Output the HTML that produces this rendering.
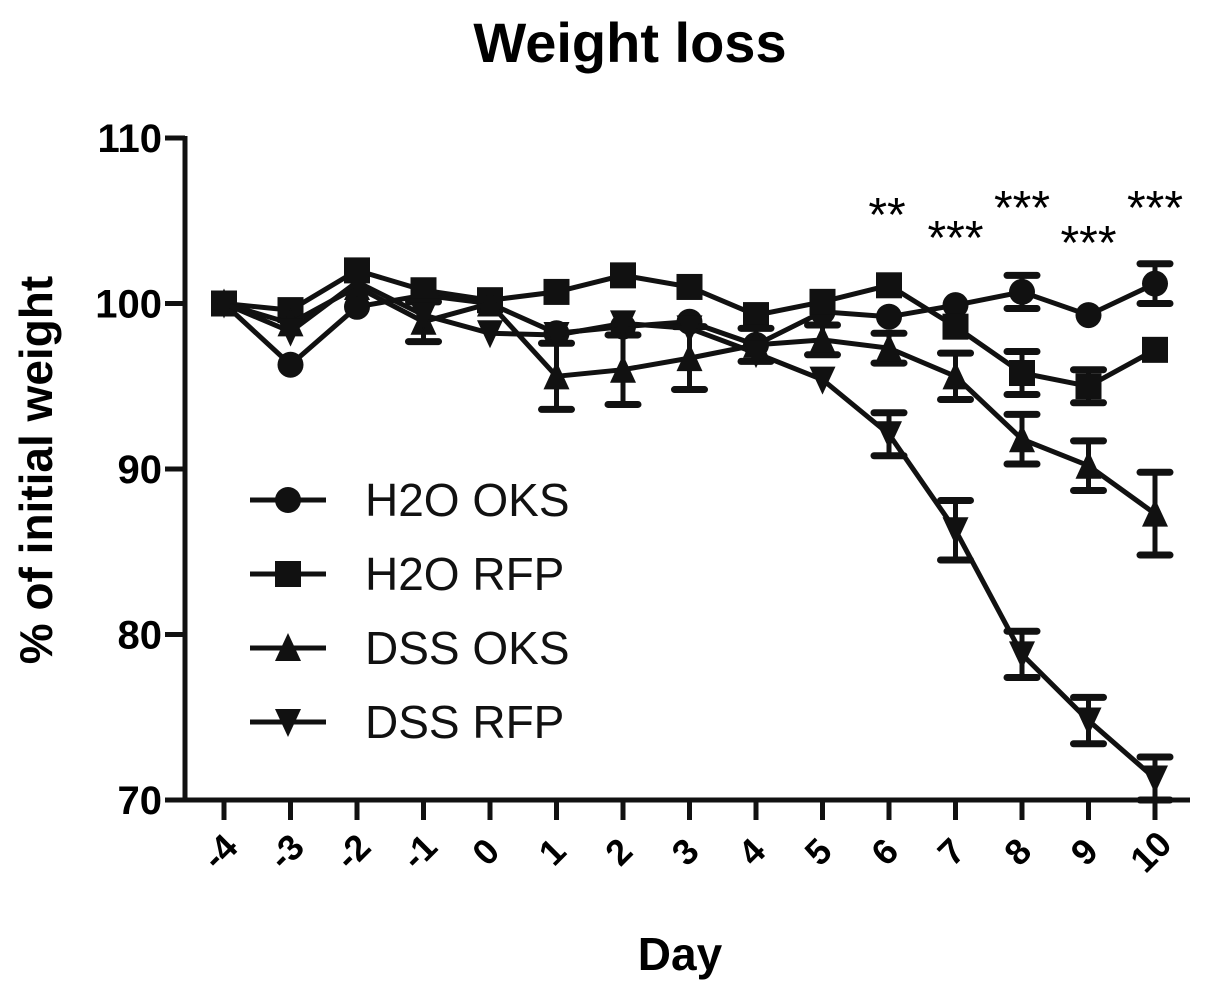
<!DOCTYPE html>
<html><head><meta charset="utf-8"><style>body{margin:0;background:#fff}svg{display:block;font-family:"Liberation Sans",Arial,sans-serif}</style></head>
<body>
<svg id="c" width="1205" height="990"></svg>
<script>
const days=[-4,-3,-2,-1,0,1,2,3,4,5,6,7,8,9,10];
const h2oOks=[100,96.3,99.8,100.5,100,98.2,98.6,98.9,97.5,99.5,99.2,99.9,100.7,99.3,101.2];
const h2oOksErr=[0,0,0,0,0,0,0,0,0,0,0,0,1,0,1.2];
const h2oRfp=[100,99.6,102,100.8,100.2,100.7,101.7,101,99.3,100.1,101.1,98.6,95.8,95,97.2];
const h2oRfpErr=[0,0,0,0,0,0,0,0,0,0,0,0,1.3,1,0];
const dssOks=[100,98.8,101,98.9,100,95.6,96,96.7,97.5,97.8,97.3,95.6,91.8,90.2,87.3];
const dssOksErr=[0,0,0,1.2,0,2,2.1,1.9,1,0.9,0.9,1.4,1.5,1.5,2.5];
const dssRfp=[100,98.3,101.3,99.3,98.2,98.1,98.8,98.5,97,95.4,92.1,86.3,78.8,74.8,71.3];
const dssRfpErr=[0,0,0,0,0,0,0,0,0,0,1.3,1.8,1.4,1.4,1.3];
const yTicks=[70,80,90,100,110];
const stars=[{d:6,t:"**",y:105.6},{d:7,t:"***",y:104.2},{d:8,t:"***",y:106},{d:9,t:"***",y:103.9},{d:10,t:"***",y:106}];
const NS="http://www.w3.org/2000/svg";
const svg=document.getElementById('c');
const X=d=>224+(d+4)*(1155-224)/14;
const Y=v=>800-(v-70)*(800-138)/40;
function el(t,a,p){const e=document.createElementNS(NS,t);for(const k in a)e.setAttribute(k,a[k]);(p||svg).appendChild(e);return e;}
let t=el('text',{x:630,y:62,'text-anchor':'middle','font-size':56,'font-weight':'bold'});t.textContent='Weight loss';


el('line',{x1:185,y1:136,x2:185,y2:802,stroke:'#111','stroke-width':5});
el('line',{x1:183,y1:800,x2:1190,y2:800,stroke:'#111','stroke-width':5});
yTicks.forEach(v=>{el('line',{x1:165,y1:Y(v),x2:185,y2:Y(v),stroke:'#111','stroke-width':5});
 const tx=el('text',{x:162,y:Y(v)+14,'text-anchor':'end','font-size':40,'font-weight':'bold'});tx.textContent=v;
 
 });
days.forEach(d=>{el('line',{x1:X(d),y1:800,x2:X(d),y2:820,stroke:'#111','stroke-width':5});
 const cx=X(d)-4, cy=852;
 const tx=el('text',{x:cx,y:cy+12,'text-anchor':'middle','font-size':36,'font-weight':'bold',transform:`rotate(-45 ${cx} ${cy})`});tx.textContent=d;
 
 });
t=el('text',{x:680,y:970,'text-anchor':'middle','font-size':46,'font-weight':'bold'});t.textContent='Day';


t=el('text',{x:0,y:0,'text-anchor':'middle','font-size':46,'font-weight':'bold',transform:'translate(52,470) rotate(-90)'});t.textContent='% of initial weight';


function marker(type,x,y,g){const s=13;
 if(type==='circle')return el('circle',{cx:x,cy:y,r:s},g);
 if(type==='square')return el('rect',{x:x-s,y:y-s,width:2*s,height:2*s},g);
 if(type==='up')return el('polygon',{points:`${x},${y-s-2} ${x-s},${y+s} ${x+s},${y+s}`},g);
 return el('polygon',{points:`${x},${y+s+2} ${x-s},${y-s} ${x+s},${y-s}`},g);}
const series=[[h2oOks,h2oOksErr,'circle','series-h2o-oks','H2O OKS'],[h2oRfp,h2oRfpErr,'square','series-h2o-rfp','H2O RFP'],[dssOks,dssOksErr,'up','series-dss-oks','DSS OKS'],[dssRfp,dssRfpErr,'down','series-dss-rfp','DSS RFP']];
series.forEach(([vals,errs,m,name])=>{const g=el('g',{fill:'#111',stroke:'#111'});
 
 
 el('polyline',{points:days.map((d,i)=>X(d)+','+Y(vals[i])).join(' '),fill:'none','stroke-width':5},g);
 days.forEach((d,i)=>{if(errs[i]>0){el('line',{x1:X(d),y1:Y(vals[i]-errs[i]),x2:X(d),y2:Y(vals[i]+errs[i]),'stroke-width':5},g);
  [vals[i]-errs[i],vals[i]+errs[i]].forEach(v=>el('line',{x1:X(d)-15,y1:Y(v),x2:X(d)+15,y2:Y(v),'stroke-width':7,'stroke-linecap':'round'},g));}
  const mk=marker(m,X(d),Y(vals[i]),g);mk.setAttribute('stroke','none');});});
series.forEach(([v,e,m,name,label],i)=>{const y=500+i*74;const g=el('g',{fill:'#111',stroke:'#111'});
 
 
 el('line',{x1:250,y1:y,x2:326,y2:y,'stroke-width':5},g);marker(m,288,y,g).setAttribute('stroke','none');
 const tx=el('text',{x:365,y:y+16,'font-size':46,stroke:'none'},g);tx.textContent=label;});
stars.forEach(s=>{const tx=el('text',{x:X(s.d)-(s.t.length>2?0:2),y:Y(s.y)+20,'text-anchor':'middle','font-size':48});tx.textContent=s.t;
 
 });
</script>
</body></html>
